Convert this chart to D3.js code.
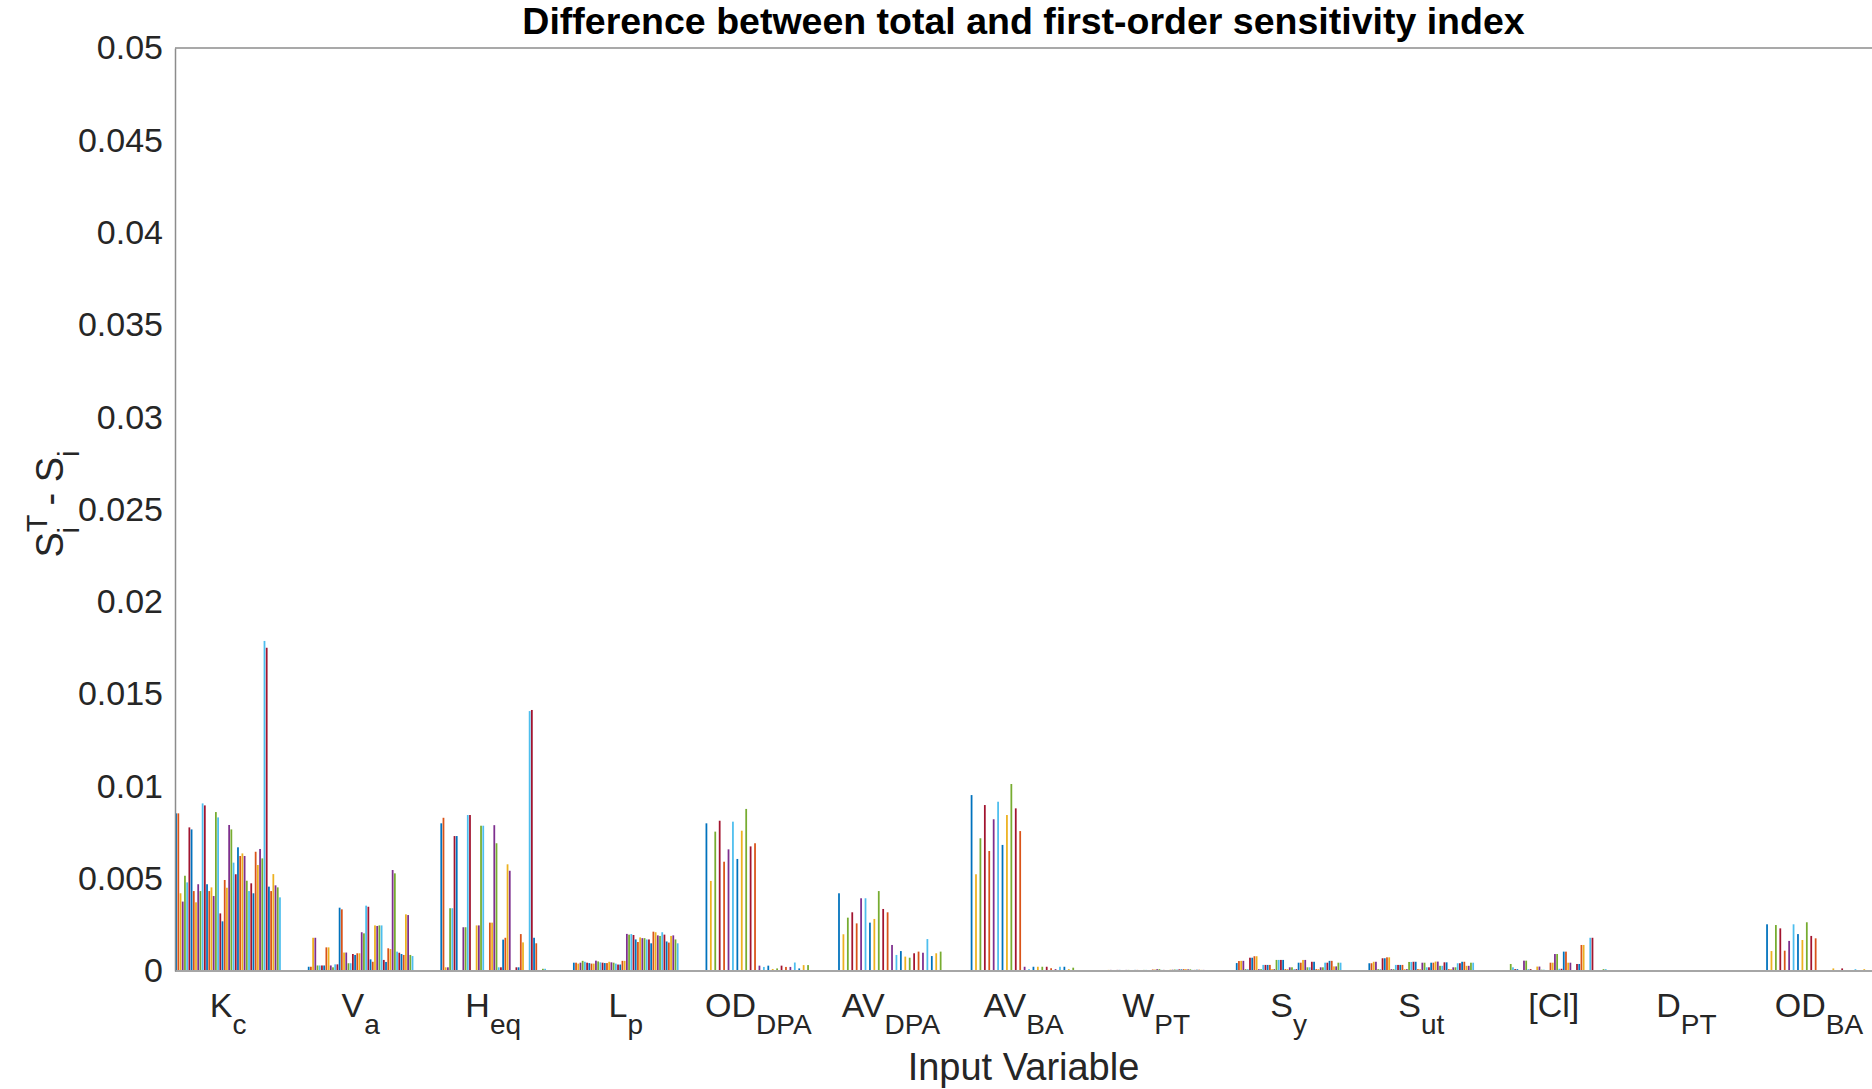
<!DOCTYPE html>
<html>
<head>
<meta charset="utf-8">
<script src="https://cdn.jsdelivr.net/npm/d3@7"></script>
<style>
  body { margin: 0; background: #fff; }
  svg { display: block; font-family: "Liberation Sans", Arial, sans-serif; }
</style>
</head>
<body>
<svg id="chart" width="1872" height="1089"></svg>
<script>
// input variables (main symbol + subscript)
const catMain = ["K", "V", "H", "L", "OD", "AV", "AV", "W", "S", "S", "[Cl]", "D", "OD"];
const catSub  = ["c", "a", "eq", "p", "DPA", "DPA", "BA", "PT", "y", "ut", "", "PT", "BA"];

// S_i^T - S_i for each of the 48 runs, one array per input variable
const kc = [0.00854,0.00854,0.00421,0.00376,0.00516,0.0048,0.00778,0.00767,0.00433,0.00372,0.0047,0.00433,
  0.00908,0.00897,0.0047,0.00433,0.00453,0.00406,0.00861,0.00832,0.00312,0.00269,0.00493,0.00451,
  0.00791,0.00767,0.00587,0.00524,0.0067,0.00623,0.00637,0.00623,0.00489,0.00433,0.00475,0.00421,
  0.00646,0.00574,0.00661,0.0061,0.01788,0.01751,0.00457,0.00433,0.00525,0.00464,0.00453,0.00399];
const va = [0.00023,0.00023,0.0018,0.0018,0.0003,0.0003,0.0003,0.0003,0.00128,0.00128,0.0003,0.0002,
  0.00036,0.00036,0.00343,0.00334,0.001,0.001,0.00042,0.00042,0.00092,0.00087,0.00096,0.00096,
  0.0021,0.00204,0.00354,0.00348,0.00063,0.0005,0.00247,0.00244,0.00247,0.00247,0.0006,0.00049,
  0.00123,0.00119,0.00547,0.00529,0.00105,0.00099,0.00092,0.00087,0.00307,0.00303,0.00087,0.00081];
const heq = [0.008,0.0083,0.0002,0.0002,0.0034,0.0034,0.00731,0.00731,0,0,0.00237,0.00237,
  0.00845,0.00845,0,0,0.00247,0.00247,0.00787,0.00787,0,0,0.00262,0.00262,
  0.0079,0.00692,0.0002,0.0002,0.0017,0.0018,0.00578,0.00543,0,0,0.0002,0.0002,
  0.002,0.00155,0,0,0.01408,0.01414,0.0018,0.0015,0,0,0.00012,0.00012];
const lp = [0.00045,0.00045,0.0004,0.00045,0.00055,0.0005,0.00045,0.00043,0.0004,0.0004,0.00056,0.00052,
  0.00047,0.00045,0.00043,0.00043,0.0005,0.00047,0.00045,0.0004,0.00035,0.00035,0.00055,0.00055,
  0.00201,0.00197,0.002,0.00195,0.00171,0.00157,0.00182,0.00178,0.00178,0.00171,0.00171,0.0015,
  0.00213,0.0021,0.00193,0.0019,0.0021,0.00197,0.0016,0.00154,0.0019,0.00193,0.00171,0.0015];
const odDpa = [0.008,0,0.00488,0,0.00755,0,0.00814,0,0.00592,0,0.00659,0,
  0.00809,0,0.00607,0,0.0076,0,0.00878,0,0.00675,0,0.00692,0,
  0.00029,0,0.00022,0,0.00029,0,0.00011,0,0.00014,0,0.00029,0,
  0.00022,0,0.00022,0,0.00046,0,0.00014,0,0.00032,0,0.00032,0];
const avDpa = [0.00421,0,0.00199,0,0.00289,0,0.00318,0,0.00258,0,0.00394,0,
  0.00394,0,0.00262,0,0.00282,0,0.00433,0,0.00336,0,0.00318,0,
  0.00141,0,0.00087,0,0.00108,0,0.00078,0,0.00072,0,0.00096,0,
  0.00105,0,0.00099,0,0.00173,0,0.00081,0,0.00096,0,0.00105,0];
const avBa = [0.00953,0,0.00524,0,0.00719,0,0.00899,0,0.0065,0,0.00822,0,
  0.00917,0,0.00683,0,0.00845,0,0.01013,0,0.00881,0,0.00758,0,
  0.00023,0,0.0001,0,0.00023,0,0.00023,0,0.00023,0,0.00023,0,
  0.00015,0,0.0001,0,0.00023,0,0.00023,0,0.0001,0,0.00018,0];
const wPt = [0.00005,0.00005,0.00006,0.00006,0.00004,0.00004,0.00006,0.00006,0.00005,0.00005,0.00006,0.00006,
  0.00005,0.00005,0.00006,0.00006,0.00004,0.00004,0.00006,0.00006,0.00005,0.00005,0.00008,0.00008,
  0.0001,0.0001,0.00006,0.00006,0.00005,0.00005,0.00007,0.00007,0.00008,0.00008,0.00009,0.00009,
  0.0001,0.0001,0.00009,0.00009,0.00006,0.00006,0.00007,0.00007,0.00006,0.00006,0.00005,0.00005];
const sy = [0.00043,0.00054,0.00055,0.00055,0.0001,0.0001,0.00072,0.00072,0.0008,0.0008,0.0001,0.0001,
  0.00033,0.00033,0.00033,0.00033,0.0001,0.0001,0.0006,0.0006,0.0006,0.0006,0.0001,0.0001,
  0.0002,0.0002,0.0001,0.0001,0.00045,0.00045,0.0006,0.0006,0.0002,0.0002,0.0005,0.0005,
  0.0001,0.0001,0.0002,0.0002,0.00045,0.00045,0.00055,0.00055,0.00025,0.00025,0.00045,0.00045];
const sut = [0.00042,0.00042,0.0005,0.0005,0.0001,0.0001,0.00069,0.00069,0.00074,0.00074,0.0001,0.0001,
  0.00033,0.00033,0.00033,0.00033,0.0001,0.0001,0.00049,0.00049,0.0005,0.0005,0.0001,0.0001,
  0.00045,0.00045,0.0002,0.0002,0.00045,0.00045,0.00051,0.00051,0.00028,0.00028,0.00047,0.00047,
  0.0001,0.0001,0.0002,0.0002,0.00042,0.00042,0.0005,0.0005,0.00028,0.00028,0.00045,0.00045];
const cl = [0.00005,0.00005,0,0,0.00038,0.0002,0.0001,0.0001,0,0,0.00056,0.00056,
  0.0001,0.0001,0,0,0.00024,0.00024,0.00007,0.00007,0,0,0.00045,0.00045,
  0.00092,0.00092,0.00012,0.00012,0.00105,0.00105,0.00045,0.00045,0,0,0.00038,0.00038,
  0.00141,0.00141,0,0,0.0018,0.0018,0.00005,0.00005,0,0,0.0001,0.0001];
const dPt = [0,0,0,0,0,0,0,0,0,0,0,0,0,0,0,0,0,0,0,0,0,0,0,0,
  0,0,0,0,0,0,0,0,0,0,0,0,0,0,0,0,0,0,0,0,0,0,0,0];
const odBa = [0.00253,0,0.00108,0,0.00249,0,0.00231,0,0.0011,0,0.00163,0,
  0.00253,0,0.002,0,0.00168,0,0.00264,0,0.0019,0,0.00177,0,
  0.00005,0,0.00005,0,0,0,0.00014,0,0,0,0.00014,0,
  0,0,0,0,0.0001,0,0,0,0.0001,0,0.00005,0];

const yTicks = [0,0.005,0.01,0.015,0.02,0.025,0.03,0.035,0.04,0.045,0.05];
const seriesColors = ["#0072BD","#D95319","#EDB120","#7E2F8E","#77AC30","#4DBEEE","#A2142F"];

const groups = [kc, va, heq, lp, odDpa, avDpa, avBa, wPt, sy, sut, cl, dPt, odBa];
const nSeries = kc.length;

const svg = d3.select("#chart");
const plotLeft = 175, plotRight = 1872, plotTop = 48, plotBottom = 971;

const x = d3.scaleLinear().domain([0.6, 13.4]).range([plotLeft, plotRight]);
const y = d3.scaleLinear().domain([0, 0.05]).range([plotBottom, plotTop]);
// position of each run inside a group (MATLAB grouped bar layout)
const inner = d3.scaleBand().domain(d3.range(nSeries)).range([-0.4, 0.4])
  .paddingInner(0.2).paddingOuter(0.1);
const barW = x(0.6 + inner.bandwidth()) - x(0.6);

svg.append("clipPath").attr("id", "plotClip")
  .append("rect").attr("x", plotLeft).attr("y", plotTop)
  .attr("width", plotRight - plotLeft).attr("height", plotBottom - plotTop);

// bars
const plot = svg.append("g").attr("clip-path", "url(#plotClip)");
groups.forEach(function(vals, gi) {
  plot.append("g")
    .selectAll("rect")
    .data(vals)
    .join("rect")
      .attr("x", (d, j) => x(gi + 1 + inner(j)))
      .attr("y", d => y(d))
      .attr("width", barW)
      .attr("height", d => y(0) - y(d))
      .attr("fill", (d, j) => seriesColors[j % seriesColors.length]);
});

// box lines
svg.append("line").attr("x1", plotLeft).attr("x2", plotRight).attr("y1", plotTop).attr("y2", plotTop)
  .attr("stroke", "#8c8c8c").attr("stroke-width", 1.5);
svg.append("line").attr("x1", plotLeft).attr("x2", plotRight).attr("y1", plotBottom).attr("y2", plotBottom)
  .attr("stroke", "#a6a6a6").attr("stroke-width", 2);

// y axis
const yAxis = svg.append("g")
  .attr("transform", `translate(${plotLeft},0)`)
  .call(d3.axisLeft(y).tickValues(yTicks).tickSize(0).tickPadding(12)
    .tickFormat(d => String(+d.toFixed(3))));
yAxis.select(".domain").attr("stroke", "#8c8c8c").attr("stroke-width", 1.5);
yAxis.selectAll("text")
  .attr("fill", "#262626")
  .style("font-size", "34px")
  .style("font-family", "'Liberation Sans', Arial, sans-serif");

// x tick labels with subscripts
const xl = svg.append("g");
catMain.forEach(function(m, i) {
  const t = xl.append("text")
    .attr("x", x(i + 1))
    .attr("y", 1017)
    .attr("text-anchor", "middle")
    .attr("fill", "#262626")
    .style("font-size", "34px");
  t.append("tspan").text(m);
  if (catSub[i]) {
    t.append("tspan").attr("dy", 17).style("font-size", "28px").text(catSub[i]);
  }
});

// axis titles
svg.append("text")
  .attr("x", (plotLeft + plotRight) / 2).attr("y", 1080)
  .attr("text-anchor", "middle").attr("fill", "#262626")
  .style("font-size", "38px")
  .text("Input Variable");

const yl = svg.append("text")
  .attr("transform", "translate(63,504) rotate(-90)")
  .attr("text-anchor", "middle").attr("fill", "#262626")
  .style("font-size", "38px");
yl.append("tspan").text("S");
yl.append("tspan").attr("dy", -16).style("font-size", "29px").text("T");
yl.append("tspan").attr("dx", -18).attr("dy", 32).style("font-size", "29px").text("i");
yl.append("tspan").attr("dx", 11).attr("dy", -16).text(" - S");
yl.append("tspan").attr("dy", 16).style("font-size", "29px").text("i");

// title
svg.append("text")
  .attr("x", (plotLeft + plotRight) / 2).attr("y", 34)
  .attr("text-anchor", "middle").attr("fill", "#000")
  .style("font-size", "37.5px").style("font-weight", "bold")
  .text("Difference between total and first-order sensitivity index");
</script>
</body>
</html>
